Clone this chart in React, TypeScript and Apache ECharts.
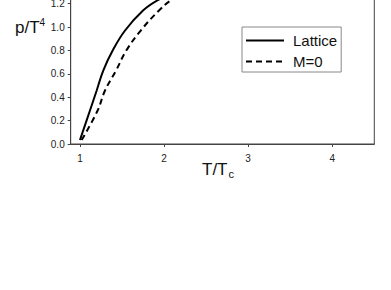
import React, { useEffect, useRef } from "react";
import * as echarts from "echarts";

const latticeT = [1.0, 1.119, 1.199, 1.277, 1.389, 1.536, 1.75, 1.93, 2.3, 3.0, 4.0, 4.5];
const latticeP = [0.034, 0.286, 0.457, 0.628, 0.799, 0.97, 1.141, 1.231, 1.37, 1.52, 1.6, 1.62];
const m0T = [1.02, 1.21, 1.298, 1.429, 1.551, 1.723, 1.94, 2.09, 2.5, 3.0, 4.0, 4.5];
const m0P = [0.034, 0.286, 0.457, 0.628, 0.799, 0.97, 1.141, 1.231, 1.37, 1.46, 1.56, 1.59];
const xTicks = [1, 2, 3, 4];
const seriesNames = ["Lattice", "M=0"];

const FONT = "Arial, 'Liberation Sans', sans-serif";
const OFFSET = 60;

export default function App() {
  const ref = useRef<HTMLDivElement>(null);
  useEffect(() => {
    const chart = echarts.init(ref.current!, null, { renderer: "svg" });
    chart.setOption({
      animation: false,
      grid: {
        left: 70.7,
        right: 16.7,
        top: 144 + OFFSET - 1.6 * 117,
        bottom: 350 - (144 + OFFSET),
        show: true,
        borderColor: "#444",
        borderWidth: 1,
      },
      xAxis: {
        type: "value",
        min: 0.89,
        max: 4.5,
        splitLine: { show: false },
        axisLine: { show: true, lineStyle: { color: "#444", width: 1 } },
        axisTick: { show: true, length: 3, customValues: xTicks, lineStyle: { color: "#444" } },
        axisLabel: { customValues: xTicks, fontSize: 10, color: "#222", margin: 9, fontFamily: FONT },
      },
      yAxis: {
        type: "value",
        min: 0,
        max: 1.6,
        interval: 0.2,
        splitLine: { show: false },
        axisLine: { show: true, lineStyle: { color: "#444", width: 1 } },
        axisTick: { show: true, length: 3, lineStyle: { color: "#444" } },
        axisLabel: {
          fontSize: 10,
          color: "#222",
          margin: 6,
          fontFamily: FONT,
          formatter: (v: number) => v.toFixed(1),
        },
      },
      legend: {
        orient: "vertical",
        left: 242,
        top: 27 + OFFSET,
        data: seriesNames,
        borderColor: "#888",
        borderWidth: 1,
        padding: [6, 4, 3, 3],
        itemWidth: 38,
        itemHeight: 14,
        itemGap: 6,
        itemStyle: { opacity: 0 },
        textStyle: { fontSize: 15, color: "#111", fontFamily: FONT, padding: [0, 0, 0, 4] },
      },
      series: [
        {
          name: seriesNames[0],
          type: "line",
          smooth: 0.4,
          symbol: "none",
          data: latticeT.map((t, i) => [t, latticeP[i]]),
          lineStyle: { color: "#000", width: 2, type: "solid" },
          itemStyle: { color: "#000" },
        },
        {
          name: seriesNames[1],
          type: "line",
          smooth: 0.4,
          symbol: "none",
          data: m0T.map((t, i) => [t, m0P[i]]),
          lineStyle: { color: "#000", width: 2, type: [6, 4] },
          itemStyle: { color: "#000" },
        },
      ],
      graphic: [
        {
          type: "text",
          x: 218,
          y: 169 + OFFSET,
          style: {
            text: "{a|T/T}{b|c}",
            align: "center",
            verticalAlign: "middle",
            rich: {
              a: { fontSize: 17, fontFamily: FONT, fill: "#111" },
              b: { fontSize: 11, fontFamily: FONT, fill: "#111", padding: [10, 0, 0, 1] },
            },
          },
        },
        {
          type: "text",
          x: 30,
          y: 27 + OFFSET,
          style: {
            text: "{a|p/T}{b|4}",
            align: "center",
            verticalAlign: "middle",
            rich: {
              a: { fontSize: 17, fontFamily: FONT, fill: "#111" },
              b: { fontSize: 10, fontFamily: FONT, fill: "#111", padding: [0, 0, 10, 0] },
            },
          },
        },
      ],
    });
    return () => chart.dispose();
  }, []);
  return (
    <div style={{ position: "fixed", left: 0, top: 0, width: 391, height: 290, overflow: "hidden", background: "#fff" }}>
      <div ref={ref} style={{ position: "absolute", left: 0, top: -OFFSET, width: 391, height: 350 }} />
    </div>
  );
}
